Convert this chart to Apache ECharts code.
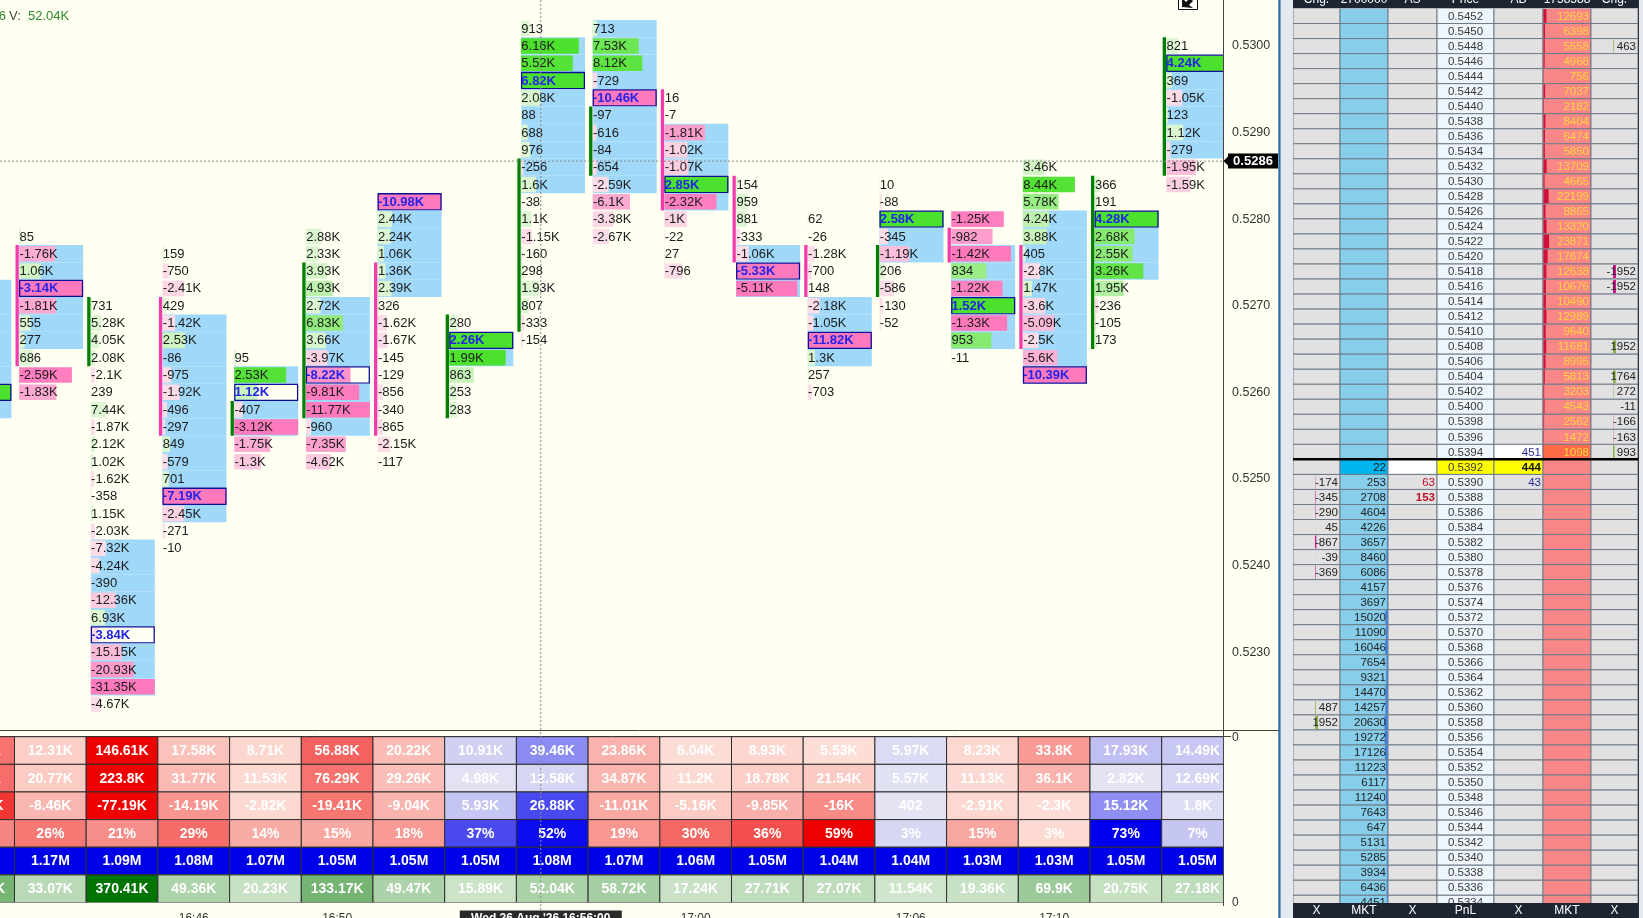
<!DOCTYPE html>
<html><head><meta charset="utf-8">
<script src="https://cdn.jsdelivr.net/npm/echarts@6/dist/echarts.min.js"></script>
<style>html,body{margin:0;padding:0;background:#fffff2;overflow:hidden}#c{width:1643px;height:918px}</style>
</head><body><div id="c"></div>
<script>
// ---------------- DATA ----------------
const times = ['16:40','16:42','16:44','16:46','16:48','16:50','16:52','16:54','16:56','16:58','17:00','17:02','17:04','17:06','17:08','17:10','17:12','17:14'];
const xTickLabels = ['16:46','16:50','17:00','17:06','17:10'];
const priceTicks = [0.5230,0.5240,0.5250,0.5260,0.5270,0.5280,0.5290,0.5300];

// footprint: top price of each candle, then delta per price row (top -> bottom, step 0.0002)
const topPrice = [0.5272,0.5278,0.5270,0.5276,0.5264,0.5278,0.5282,0.5268,0.5302,0.5302,0.5294,0.5284,0.5280,0.5284,0.5280,0.5286,0.5284,0.5300];
const fp1640 = [-640,1210,355,-980,1460,720,3050,-870];
const fp1642 = [85,-1760,1060,-3140,-1810,555,277,686,-2590,-1830];
const fp1644 = [731,5280,4050,2080,-2100,239,7440,-1870,2120,1020,-1620,-358,1150,-2030,-7320,-4240,-390,-12360,6930,-3840,-15150,-20930,-31350,-4670];
const fp1646 = [159,-750,-2410,429,-1420,2530,-86,-975,-1920,-496,-297,849,-579,701,-7190,-2450,-271,-10];
const fp1648 = [95,2530,1120,-407,-3120,-1750,-1300];
const fp1650 = [2880,2330,3930,4930,2720,6830,3660,-3970,-8220,-9810,-11770,-960,-7350,-4620];
const fp1652 = [-10980,2440,2240,1060,1360,2390,326,-1620,-1670,-145,-129,-856,-340,-865,-2150,-117];
const fp1654 = [280,2260,1990,863,253,283];
const fp1656 = [913,6160,5520,6820,2080,88,688,976,-256,1600,-38,1100,-1150,-160,298,1930,807,-333,-154];
const fp1658 = [713,7530,8120,-729,-10460,-97,-616,-84,-654,-2590,-6100,-3380,-2670];
const fp1700 = [16,-7,-1810,-1020,-1070,2850,-2320,-1000,-22,27,-796];
const fp1702 = [154,959,881,-333,-1060,-5330,-5110];
const fp1704 = [62,-26,-1280,-700,148,-2180,-1050,-11820,1300,257,-703];
const fp1706 = [10,-88,2580,-345,-1190,206,-586,-130,-52];
const fp1708 = [-1250,-982,-1420,834,-1220,1520,-1330,953,-11];
const fp1710 = [3460,8440,5780,4240,3880,405,-2800,1470,-3600,-5090,-2500,-5600,-10390];
const fp1712 = [366,191,4280,2680,2550,3260,1950,-236,-105,173];
const fp1714 = [821,4240,369,-1050,123,1120,-279,-1950,-1590];
const openPrice  = [0.5266,0.5276,0.5264,0.5270,0.5256,0.5258,0.5274,0.5258,0.5268,0.5286,0.5294,0.5284,0.5276,0.5272,0.5278,0.5276,0.5266,0.5286];
const closePrice = [0.5270,0.5264,0.5270,0.5256,0.5258,0.5274,0.5256,0.5268,0.5286,0.5292,0.5282,0.5276,0.5272,0.5276,0.5276,0.5266,0.5284,0.5300];
const vaHigh   = [0.5272,0.5276,0.5242,0.5268,0.5262,0.5270,0.5282,0.5266,0.5300,0.5302,0.5290,0.5276,0.5270,0.5280,0.5276,0.5280,0.5280,0.5298];
const vaLow    = [0.5258,0.5266,0.5226,0.5246,0.5256,0.5256,0.5272,0.5264,0.5284,0.5284,0.5282,0.5272,0.5264,0.5276,0.5266,0.5262,0.5274,0.5288];
const pocPrice = [0.5260,0.5272,0.5232,0.5248,0.5260,0.5262,0.5282,0.5266,0.5296,0.5294,0.5284,0.5274,0.5266,0.5280,0.5270,0.5262,0.5280,0.5298];

// statistics table
const buyVol   = [50120,12310,146610,17580,8710,56880,20220,10910,39460,23860,6040,8930,5530,5970,8230,33800,17930,14490];
const sellVol  = [80370,20770,223800,31770,11530,76290,29260,4980,12580,34870,11200,18780,21540,5570,11130,36100,2820,12690];
const deltaVol = [-30250,-8460,-77190,-14190,-2820,-19410,-9040,5930,26880,-11010,-5160,-9850,-16000,402,-2910,-2300,15120,1800];
const deltaPct = [23,26,21,29,14,15,18,37,52,19,30,36,59,3,15,3,73,7];
const cumDelta = [1180000,1170000,1090000,1080000,1070000,1050000,1050000,1050000,1080000,1070000,1060000,1050000,1040000,1040000,1030000,1030000,1050000,1050000];
const totalVol = [130490,33070,370410,49360,20230,133170,49470,15890,52040,58720,17240,27710,27070,11540,19360,69900,20750,27180];

// DOM ladder
const ladderPrices = ['0.5452','0.5450','0.5448','0.5446','0.5444','0.5442','0.5440','0.5438','0.5436','0.5434','0.5432','0.5430','0.5428','0.5426','0.5424','0.5422','0.5420','0.5418','0.5416','0.5414','0.5412','0.5410','0.5408','0.5406','0.5404','0.5402','0.5400','0.5398','0.5396','0.5394',
  '0.5392','0.5390','0.5388','0.5386','0.5384','0.5382','0.5380','0.5378','0.5376','0.5374','0.5372','0.5370','0.5368','0.5366','0.5364','0.5362','0.5360','0.5358','0.5356','0.5354','0.5352','0.5350','0.5348','0.5346','0.5344','0.5342','0.5340','0.5338','0.5336','0.5334'];
const askSizes = [12693,6398,5558,4968,756,7037,2182,8404,6474,5850,13709,4665,22199,8865,13320,23871,17674,12638,10676,10490,12989,9640,11681,8995,5813,3203,4543,2562,1472,1098];
const bidSizes = [22,253,2708,4604,4226,3657,8460,6086,4157,3697,15020,11090,16046,7654,9321,14470,14257,20630,19272,17126,11223,6117,11240,7643,647,5131,5285,3934,6436,4451];
const askChg = [null,null,463,null,null,null,null,null,null,null,null,null,null,null,null,null,null,-1952,-1952,null,null,null,1952,null,1764,272,-11,-166,-163,993];
const bidChg = [null,-174,-345,-290,45,-867,-39,-369,null,null,null,null,null,null,null,null,487,1952,null,null,null,null,null,null,null,null,null,null,null,null];
const ladderAS = {'0.5390':63,'0.5388':153};
const ladderAB = {'0.5394':451,'0.5392':444,'0.5390':43};
const lastTradePrice = '0.5392';
const bestAskPrice = '0.5394';
const domHeaders = ['Chg.','2700000','AS','Price','AB','1758588','Chg.'];
const domFooters = ['X','MKT','X','PnL','X','MKT','X'];

// cursor (crosshair) position
const cursorCol = 7.34;
const cursorPrice = 0.52867;
const cursorLabel = "Wed 26 Aug '26 16:56:00";

// ---------------- HELPERS ----------------
const FONT = '"Liberation Sans", Arial, Helvetica, sans-serif';
const ROW_STEP = 0.0002;
const X_MIN = -0.20223, X_MAX = 16.855;
const CELL_OFF = 4.6, CELL_W = 64;
const GRAY = '#e1e1e1';
const domEdges = [0,47,95,144,201,250,298,345];

function hexRgb(h){ h = h.replace('#',''); return [0,2,4].map(i => parseInt(h.substr(i,2),16)); }
function mix(c1, c2, t){ t = Math.max(0, Math.min(1, t)); const a = hexRgb(c1), b = hexRgb(c2); return 'rgb(' + a.map((v,i) => Math.round(v + (b[i]-v)*t)).join(',') + ')'; }
function trim2(x){ return String(parseFloat(x.toFixed(2))); }
function fmtK(v){ const a = Math.abs(v); if (a >= 1e6) return trim2(v/1e6)+'M'; if (a >= 1000) return trim2(v/1000)+'K'; return String(v); }
function T(text, x, y, font, fill, align, valign, extra){
  return Object.assign({type:'text', silent:true, style:{text:text, x:x, y:y, font:font, fill:fill, align:align, verticalAlign:valign, textAlign:align, textVerticalAlign:valign}}, extra || {});
}

// ---------------- FOOTPRINT DATA ----------------
const candles = [fp1640,fp1642,fp1644,fp1646,fp1648,fp1650,fp1652,fp1654,fp1656,fp1658,fp1700,fp1702,fp1704,fp1706,fp1708,fp1710,fp1712,fp1714];
const maxAbs = candles.map(c => Math.max.apply(null, c.map(Math.abs)));
const cellData = [];
candles.forEach((vals, ci) => {
  vals.forEach((v, ri) => {
    const price = +(topPrice[ci] - ri*ROW_STEP).toFixed(4);
    cellData.push([ci - 1, price, v, ci]);
  });
});
const bodyData = times.map((t, i) => [i - 1, openPrice[i], closePrice[i]]);

function renderCell(params, api){
  const col = api.value(0), price = api.value(1), v = api.value(2), ci = api.value(3);
  const pt = api.coord([col, price]);
  const rowH = api.size([0, ROW_STEP])[1];
  const left = pt[0] + CELL_OFF, top = pt[1] - rowH/2;
  const isPoc = Math.abs(price - pocPrice[ci]) < 1e-7;
  const inVA = price <= vaHigh[ci] + 1e-7 && price >= vaLow[ci] - 1e-7;
  const r = Math.abs(v) / maxAbs[ci];
  const t = (r - 0.3) / 0.55;
  const barColor = v >= 0 ? mix('#dbf6d0', '#4be12c', t) : mix('#fcdce7', '#ff79bd', t);
  const ch = [];
  if (inVA && !isPoc) ch.push({type:'rect', shape:{x:left, y:top, width:CELL_W, height:rowH}, style:{fill:'#9fd8f9'}});
  ch.push({type:'rect', shape:{x:left, y:top+0.9, width:CELL_W*r, height:rowH-1.8}, style:{fill:barColor}});
  if (isPoc) ch.push({type:'rect', shape:{x:left+0.6, y:top+0.6, width:CELL_W-1.2, height:rowH-1.2}, style:{fill:'none', stroke:'#0d0d9c', lineWidth:1.3}});
  ch.push(T(fmtK(v), left + 0.3, pt[1] + 0.5, (isPoc ? 'bold ' : '') + '13px ' + FONT, isPoc ? '#2424e6' : '#1b1b1b', 'left', 'middle'));
  return {type:'group', children:ch};
}
function renderBody(params, api){
  const col = api.value(0), o = api.value(1), c = api.value(2);
  const hi = Math.max(o, c) + ROW_STEP/2, lo = Math.min(o, c) - ROW_STEP/2;
  const a = api.coord([col, hi]), b = api.coord([col, lo]);
  return {type:'rect', shape:{x:a[0] + 1, y:a[1], width:3.3, height:b[1]-a[1]}, style:{fill: c >= o ? '#008000' : '#f23cab'}};
}

// ---------------- TABLE DATA ----------------
const tableRows = [buyVol, sellVol, deltaVol, deltaPct, cumDelta, totalVol];
const tableData = [], tableLabels = [], tableColors = [];
const maxBuy = Math.max.apply(null, buyVol), maxSell = Math.max.apply(null, sellVol);
const maxDelta = Math.max.apply(null, deltaVol.map(Math.abs)), maxVol = Math.max.apply(null, totalVol);
function rb(sign, t){ return sign < 0 ? mix('#fde5dd', '#ee0000', t) : mix('#e3e3f4', '#0000ee', t); }
times.forEach((tm, c) => {
  tableRows.forEach((arr, r) => {
    tableData.push([c - 1, r]);
    const v = arr[c];
    tableLabels.push(r === 3 ? v + '%' : fmtK(v));
    let col;
    if (r === 0) col = rb(deltaVol[c], 1.55 * v / maxBuy - 0.03);
    else if (r === 1) col = rb(deltaVol[c], 1.55 * v / maxSell - 0.03);
    else if (r === 2) col = rb(v, 2 * Math.abs(v) / maxDelta - 0.02);
    else if (r === 3) col = rb(deltaVol[c], v / 55);
    else if (r === 4) col = '#0000e8';
    else col = mix('#e4f1e0', '#007400', Math.pow(v/maxVol, 0.7));
    tableColors.push(col);
  });
});
function renderTable(params, api){
  const col = api.value(0), row = api.value(1);
  const a = api.coord([col, row]), b = api.coord([col+1, row+1]);
  const i = params.dataIndex;
  return {type:'group', children:[
    {type:'rect', shape:{x:a[0], y:a[1], width:b[0]-a[0], height:b[1]-a[1]}, style:{fill:tableColors[i], stroke:'#2e2e2e', lineWidth:1}},
    T(tableLabels[i], (a[0]+b[0])/2, (a[1]+b[1])/2 + 0.5, 'bold 14px ' + FONT, '#ffffff', 'center', 'middle')
  ]};
}

// ---------------- DOM LADDER ----------------
const maxAsk = Math.max.apply(null, askSizes), maxBid = Math.max.apply(null, bidSizes);
const domData = ladderPrices.map((p, i) => [i, +p]);
function renderDom(params, api){
  const idx = api.value(0), pv = api.value(1);
  const price = ladderPrices[idx];
  const c = api.coord([0, pv]);
  const rowH = api.size([0, ROW_STEP])[1];
  const top = c[1] - rowH/2, cy = c[1] + 0.5, x0 = c[0];
  const nAsk = askSizes.length;
  const isAsk = idx < nAsk, k = isAsk ? idx : idx - nAsk;
  const isLast = price === lastTradePrice, isBestAsk = price === bestAskPrice;
  const E = domEdges;
  const bg = [GRAY, isLast ? '#00b4f0' : '#87ceeb', isLast ? '#ffffff' : GRAY, isLast ? '#ffff00' : '#eef5fb',
              isBestAsk ? '#ffffff' : (isLast ? '#ffff00' : GRAY), isBestAsk ? '#ff6b48' : '#f98787', GRAY];
  const ch = [];
  for (let j = 0; j < 7; j++) ch.push({type:'rect', shape:{x:x0+E[j], y:top, width:E[j+1]-E[j], height:rowH}, style:{fill:bg[j], stroke:'#6e7b88', lineWidth:1}});
  const F = '11.5px ' + FONT;
  const R = j => x0 + E[j+1] - 2;
  ch.push(T(price, x0 + (E[3]+E[4])/2, cy, F, '#3a3a3a', 'center', 'middle'));
  function chg(g, j){
    if (g == null) return;
    const w = Math.abs(g)/1952*3;
    ch.push({type:'rect', shape:{x:x0+E[j]+22, y:top+1, width:w, height:rowH-2}, style:{fill: g < 0 ? '#d3168f' : '#8fb04a'}});
    ch.push(T(String(g), R(j), cy, F, '#222', 'right', 'middle'));
  }
  if (isAsk) {
    const s = askSizes[k];
    ch.push({type:'rect', shape:{x:x0+E[5]+0.5, y:top+0.5, width:s/maxAsk*5.5, height:rowH-1}, style:{fill:'#d0103c'}});
    ch.push(T(String(s), R(5), cy, F, '#ffd43c', 'right', 'middle'));
    chg(askChg[k], 6);
  } else {
    const s = bidSizes[k];
    const w = s/maxBid*3;
    ch.push({type:'rect', shape:{x:x0+E[2]-w-0.5, y:top+0.5, width:w, height:rowH-1}, style:{fill:'#3f7fdc'}});
    ch.push(T(String(s), R(1), cy, F, '#222', 'right', 'middle'));
    chg(bidChg[k], 0);
  }
  if (ladderAS[price] != null) {
    const v = ladderAS[price];
    ch.push(T(String(v), R(2), cy, (v >= 100 ? 'bold ' : '') + F, '#c0102a', 'right', 'middle'));
  }
  if (ladderAB[price] != null) {
    ch.push(T(String(ladderAB[price]), R(4), cy, (isLast ? 'bold ' : '') + F, isLast ? '#111' : '#2a2aa0', 'right', 'middle'));
  }
  if (isLast) ch.push({type:'rect', shape:{x:x0, y:top-1.4, width:E[7], height:2.6}, style:{fill:'#000'}});
  return {type:'group', children:ch};
}

// ---------------- CHART ----------------
const chart = echarts.init(document.getElementById('c'), null, {renderer:'canvas', width:1643, height:918});
const tickVals = xTickLabels.map(l => times.indexOf(l) - 1 + 0.5);
const option = {
  backgroundColor: '#fffff2',
  animation: false,
  grid: [
    {left:0, top:0, width:1223, height:738.8, containLabel:false, outerBoundsMode:'none'},
    {left:0, top:736.7, width:1223, height:165.8, containLabel:false, outerBoundsMode:'none'},
    {left:1293, top:8.5, width:345, height:901.8, containLabel:false, outerBoundsMode:'none'}
  ],
  xAxis: [
    {type:'value', gridIndex:0, min:X_MIN, max:X_MAX, show:false},
    {type:'value', gridIndex:1, min:X_MIN, max:X_MAX, position:'bottom', offset:3,
     axisLine:{show:true, lineStyle:{color:'#333', width:1}},
     axisTick:{show:true, customValues:tickVals, length:5, lineStyle:{color:'#333'}},
     axisLabel:{show:true, customValues:tickVals, margin:7, color:'#333', fontSize:12, fontFamily:'"Liberation Sans", Arial, sans-serif',
       formatter: v => times[Math.round(v - 0.5) + 1]},
     splitLine:{show:false}},
    {type:'value', gridIndex:2, min:0, max:345, show:false}
  ],
  yAxis: [
    {type:'value', gridIndex:0, min:0.5220, max:0.53053, interval:0.001, position:'right',
     axisLine:{show:false}, axisTick:{show:false}, splitLine:{show:false},
     axisLabel:{margin:9, color:'#333', fontSize:12.5, fontFamily:'"Liberation Sans", Arial, sans-serif', showMaxLabel:false,
       formatter: v => priceTicks.some(p => Math.abs(p - v) < 1e-7) ? v.toFixed(4) : ''}},
    {type:'value', gridIndex:1, min:0, max:6, inverse:true, show:false},
    {type:'value', gridIndex:2, min:0.5333, max:0.5453, show:false}
  ],
  series: [
    {type:'custom', name:'cells', xAxisIndex:0, yAxisIndex:0, data:cellData, renderItem:renderCell, clip:true, silent:true},
    {type:'custom', name:'body', xAxisIndex:0, yAxisIndex:0, data:bodyData, renderItem:renderBody, clip:true, silent:true},
    {type:'custom', name:'table', xAxisIndex:1, yAxisIndex:1, data:tableData, renderItem:renderTable, clip:true, silent:true},
    {type:'custom', name:'dom', xAxisIndex:2, yAxisIndex:2, data:domData, renderItem:renderDom, clip:true, silent:true}
  ]
};
chart.setOption(option);

// overlays positioned through the axes
const cx = chart.convertToPixel({xAxisIndex:0}, cursorCol);
const cyp = chart.convertToPixel({yAxisIndex:0}, cursorPrice);
const domX = chart.convertToPixel({xAxisIndex:2}, 0);
const snapped = (Math.round(cursorPrice / ROW_STEP) * ROW_STEP).toFixed(4);
const g = [];
// side panel chrome
g.push({type:'rect', z:0, silent:true, shape:{x:1280.5, y:0, width:domX-1280.5, height:918}, style:{fill:'#e3e9ef'}});
g.push({type:'rect', z:0, silent:true, shape:{x:1278.3, y:0, width:2.3, height:918}, style:{fill:'#2f6ea5'}});
g.push({type:'rect', z:0, silent:true, shape:{x:domX+345, y:0, width:10, height:918}, style:{fill:'#e3e9ef'}});
g.push({type:'line', z:0, silent:true, shape:{x1:domX+345.5, y1:0, x2:domX+345.5, y2:918}, style:{stroke:'#333', lineWidth:1}});
g.push({type:'rect', z:30, silent:true, shape:{x:domX, y:0, width:345, height:8}, style:{fill:'#1d2533'}});
g.push({type:'rect', z:30, silent:true, shape:{x:domX, y:903, width:345, height:15}, style:{fill:'#1d2533'}});
domHeaders.forEach((h, j) => g.push(T(h, domX + (domEdges[j]+domEdges[j+1])/2, 0, '12px ' + FONT, '#ffffff', 'center', 'middle', {z:31})));
domFooters.forEach((h, j) => g.push(T(h, domX + (domEdges[j]+domEdges[j+1])/2, 911, '12px ' + FONT, '#ffffff', 'center', 'middle', {z:31})));
// pane separators and axis lines
g.push({type:'line', z:5, silent:true, shape:{x1:0, y1:730.5, x2:1279, y2:730.5}, style:{stroke:'#444', lineWidth:1}});
g.push({type:'line', z:5, silent:true, shape:{x1:1223.5, y1:0, x2:1223.5, y2:906}, style:{stroke:'#444', lineWidth:1}});
g.push({type:'line', z:5, silent:true, shape:{x1:1223, y1:736.5, x2:1231, y2:736.5}, style:{stroke:'#444', lineWidth:1}});
g.push(T('0', 1232, 738, '12px ' + FONT, '#333', 'left', 'middle', {z:5}));
g.push(T('0', 1232, 903, '12px ' + FONT, '#333', 'left', 'middle', {z:5}));
// crosshair
g.push({type:'line', z:40, silent:true, shape:{x1:0, y1:cyp, x2:1223, y2:cyp}, style:{stroke:'#8a8a8a', lineWidth:1, lineDash:[2,2]}});
g.push({type:'line', z:40, silent:true, shape:{x1:cx, y1:0, x2:cx, y2:911}, style:{stroke:'#8a8a8a', lineWidth:1, lineDash:[2,2]}});
g.push({type:'polygon', z:41, silent:true, shape:{points:[[1223.5, cyp],[1228.5, cyp-5],[1228.5, cyp+5]]}, style:{fill:'#000'}});
g.push({type:'rect', z:41, silent:true, shape:{x:1228, y:cyp-7.5, width:50, height:15}, style:{fill:'#000'}});
g.push(T(snapped, 1253, cyp + 0.5, 'bold 13px ' + FONT, '#ffffff', 'center', 'middle', {z:42}));
g.push({type:'rect', z:41, silent:true, shape:{x:cx-81, y:910.5, width:162, height:16}, style:{fill:'#2b2b2b'}});
g.push(T(cursorLabel, cx, 913, 'bold 12px ' + FONT, '#ffffff', 'center', 'top', {z:42}));
// readout for candle under cursor
const ci = Math.floor(cursorCol) + 1;
g.push(T(times[ci], 6, 16, '13px ' + FONT, '#2d8a2d', 'right', 'middle', {z:42}));
g.push(T('V:', 9, 16, '13px ' + FONT, '#444', 'left', 'middle', {z:42}));
g.push(T(fmtK(totalVol[ci]), 28, 16, '13px ' + FONT, '#2d8a2d', 'left', 'middle', {z:42}));
// corner icon
g.push({type:'rect', z:42, silent:true, shape:{x:1178.5, y:-10, width:19, height:19.5}, style:{fill:'#ffffff', stroke:'#111', lineWidth:1}});
g.push({type:'polygon', z:43, silent:true, shape:{points:[[1182,7],[1182,-2],[1186,2],[1190,-2],[1193,1],[1189,5],[1193,8]]}, style:{fill:'#111'}});
chart.setOption({graphic: g});
</script></body></html>
